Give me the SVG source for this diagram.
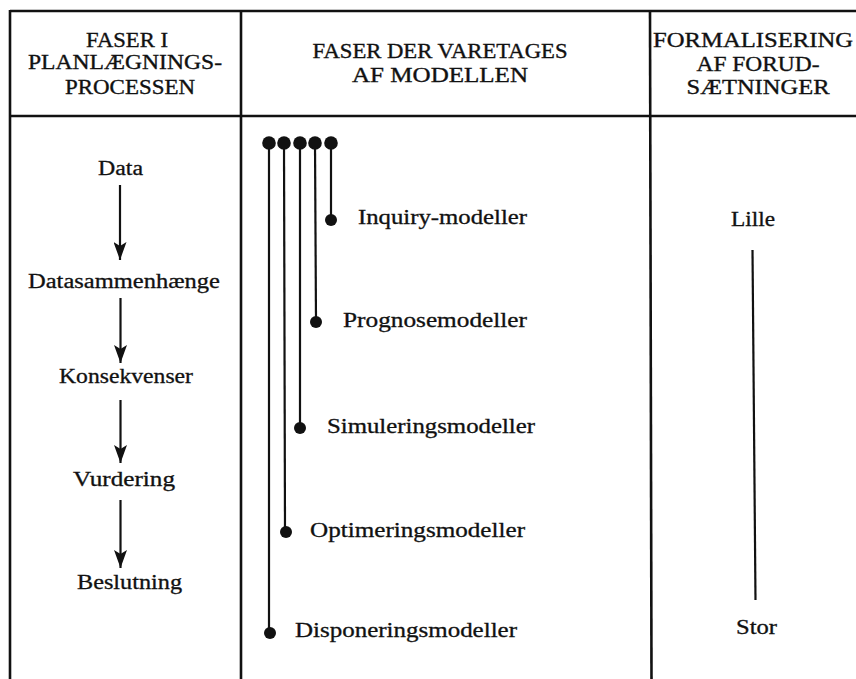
<svg xmlns="http://www.w3.org/2000/svg" width="856" height="679" viewBox="0 0 856 679">
<style>
.frame{stroke:#111;stroke-width:2.6;fill:none}
.hd{font-family:"Liberation Serif",serif;font-size:21px;fill:#111;stroke:#111;stroke-width:0.35;text-anchor:middle}
.tx{font-family:"Liberation Serif",serif;font-size:20px;fill:#111;stroke:#111;stroke-width:0.3}
.arr{stroke:#111;stroke-width:2.2;fill:none}
.bar{stroke:#111;stroke-width:2.2;fill:none}
.dot{fill:#111}
</style>
<defs>
<marker id="ah" viewBox="0 0 18 13" refX="18" refY="6.5" markerWidth="18" markerHeight="13" markerUnits="userSpaceOnUse" orient="auto">
<path d="M0,0 L18,6.5 L0,13 L4,6.5 z" fill="#111"/>
</marker>
</defs>
<rect width="856" height="679" fill="#fff"/>
<g id="table">
<line class="frame" x1="10" y1="11" x2="856" y2="11"/>
<line class="frame" x1="10" y1="116" x2="856" y2="116"/>
<line class="frame" x1="10" y1="10" x2="10" y2="679"/>
<line class="frame" x1="241" y1="10" x2="241" y2="679"/>
<line class="frame" x1="650" y1="10" x2="651.5" y2="679"/>
</g>
<g id="header-left">
<text class="hd" x="127" y="47" textLength="82" lengthAdjust="spacingAndGlyphs">FASER I</text>
<text class="hd" x="125" y="69" textLength="194" lengthAdjust="spacingAndGlyphs">PLANLÆGNINGS-</text>
<text class="hd" x="130" y="94" textLength="130" lengthAdjust="spacingAndGlyphs">PROCESSEN</text>
</g>
<g id="header-mid">
<text class="hd" x="440" y="58" textLength="255" lengthAdjust="spacingAndGlyphs">FASER DER VARETAGES</text>
<text class="hd" x="440" y="82" textLength="176" lengthAdjust="spacingAndGlyphs">AF MODELLEN</text>
</g>
<g id="header-right">
<text class="hd" x="753" y="47" textLength="200" lengthAdjust="spacingAndGlyphs">FORMALISERING</text>
<text class="hd" x="758" y="71" textLength="123" lengthAdjust="spacingAndGlyphs">AF FORUD-</text>
<text class="hd" x="758" y="94" textLength="143" lengthAdjust="spacingAndGlyphs">SÆTNINGER</text>
</g>
<g id="n-data"><text class="tx" x="98" y="175" textLength="45" lengthAdjust="spacingAndGlyphs">Data</text></g>
<g id="n-datasammenhaenge"><text class="tx" x="28" y="288" textLength="192" lengthAdjust="spacingAndGlyphs">Datasammenhænge</text></g>
<g id="n-konsekvenser"><text class="tx" x="59" y="383" textLength="134" lengthAdjust="spacingAndGlyphs">Konsekvenser</text></g>
<g id="n-vurdering"><text class="tx" x="73" y="486" textLength="102" lengthAdjust="spacingAndGlyphs">Vurdering</text></g>
<g id="n-beslutning"><text class="tx" x="77" y="589" textLength="105" lengthAdjust="spacingAndGlyphs">Beslutning</text></g>
<g id="connectors">
<line class="arr" x1="120" y1="185" x2="120" y2="260" stroke-width="1.8" marker-end="url(#ah)"/>
<line class="arr" x1="120.5" y1="298" x2="120.5" y2="363" marker-end="url(#ah)"/>
<line class="arr" x1="120.5" y1="400" x2="120.5" y2="463" marker-end="url(#ah)"/>
<line class="arr" x1="120.5" y1="500" x2="120.5" y2="568" marker-end="url(#ah)"/>
<line class="bar" x1="269" y1="143" x2="269" y2="633"/>
<line class="bar" x1="284" y1="143" x2="285" y2="532"/>
<line class="bar" x1="300" y1="143" x2="300" y2="428"/>
<line class="bar" x1="315" y1="143" x2="316" y2="322"/>
<line class="bar" x1="331" y1="143" x2="331" y2="220"/>
<line class="bar" x1="752.5" y1="250" x2="755.5" y2="600" stroke-width="2"/>
</g>
<g id="dots-top">
<circle class="dot" cx="269" cy="143" r="6.8"/>
<circle class="dot" cx="284" cy="143" r="6.8"/>
<circle class="dot" cx="300" cy="143" r="6.8"/>
<circle class="dot" cx="315" cy="143" r="6.8"/>
<circle class="dot" cx="331" cy="143" r="6.8"/>
</g>
<g id="n-inquiry"><circle class="dot" cx="331" cy="220" r="6"/><text class="tx" x="358" y="224" textLength="169" lengthAdjust="spacingAndGlyphs">Inquiry-modeller</text></g>
<g id="n-prognose"><circle class="dot" cx="316" cy="322" r="6"/><text class="tx" x="343" y="327" textLength="184" lengthAdjust="spacingAndGlyphs">Prognosemodeller</text></g>
<g id="n-simulering"><circle class="dot" cx="300" cy="428" r="6"/><text class="tx" x="327" y="433" textLength="208" lengthAdjust="spacingAndGlyphs">Simuleringsmodeller</text></g>
<g id="n-optimering"><circle class="dot" cx="286" cy="532" r="6"/><text class="tx" x="310" y="537" textLength="215" lengthAdjust="spacingAndGlyphs">Optimeringsmodeller</text></g>
<g id="n-disponering"><circle class="dot" cx="270" cy="633" r="6"/><text class="tx" x="295" y="637" textLength="222" lengthAdjust="spacingAndGlyphs">Disponeringsmodeller</text></g>
<g id="n-lille"><text class="tx" x="731" y="226" textLength="44" lengthAdjust="spacingAndGlyphs">Lille</text></g>
<g id="n-stor"><text class="tx" x="736" y="634" textLength="41" lengthAdjust="spacingAndGlyphs">Stor</text></g>
</svg>
